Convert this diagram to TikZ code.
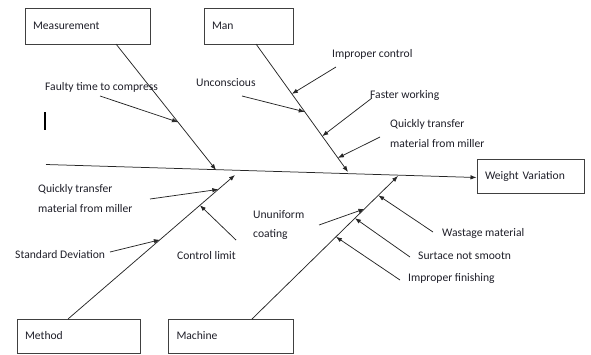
\documentclass[tikz,border=0pt]{standalone}
\usepackage{fontspec}
\setmainfont{Carlito}
\usetikzlibrary{arrows.meta,calc}
\definecolor{txt}{HTML}{1E1E28}
\tikzset{
  box/.style={draw=black!75, line width=0.7pt, rectangle, inner xsep=8pt, inner ysep=0pt, align=left, font=\fontsize{11.6}{13}\selectfont, text=txt},
  lbl/.style={anchor=west, inner sep=0pt, align=left, font=\fontsize{11.6}{20}\selectfont, text=txt},
  bone/.style={line width=0.75pt, draw=black!85},
  cause/.style={line width=0.75pt, draw=black!85, -{Latex[length=6pt,width=4.5pt]}},
}
\begin{document}
\begin{tikzpicture}[x=1pt,y=-1pt]
\useasboundingbox (0,0) rectangle (591,354);
% boxes
\node[box, minimum width=125pt, minimum height=36pt, text width=109pt] (meas) at (87.5,26) {Measurement};
\node[box, minimum width=89pt, minimum height=36pt, text width=73pt] (man) at (248.5,26) {Man};
\node[box, minimum width=107pt, minimum height=34pt, text width=91pt] (effect) at (530.5,176) {Weight Variation};
\node[box, minimum width=123pt, minimum height=34pt, text width=107pt] (method) at (78.5,336) {Method};
\node[box, minimum width=125pt, minimum height=34pt, text width=108pt, inner xsep=8.5pt] (machine) at (230.5,336) {Machine};
% spine
\coordinate (spineS) at (46,164.5);
\coordinate (spineE) at (476.5,177.5);
\draw[cause] (spineS) -- (spineE);
% bone ends
\coordinate (measA) at (116,44);   \coordinate (measB) at (216,170);
\coordinate (manA) at (256,44);    \coordinate (manB) at (348,172);
\coordinate (methA) at (68,319);   \coordinate (methB) at (235,175);
\coordinate (machA) at (252,319);  \coordinate (machB) at (398,176);
\draw[cause] (measA) -- (measB);
\draw[cause] (manA) -- (manB);
\draw[cause] (methA) -- (methB);
\draw[cause] (machA) -- (machB);
% labels
\node[lbl] (l1) at (45,87) {Faulty time to compress};
\node[lbl] (l2) at (196,83) {Unconscious};
\node[lbl] (l3) at (332,54) {Improper control};
\node[lbl] (l4) at (370,95) {Faster working};
\node[lbl] (l5) at (390,134) {Quickly transfer\\material from miller};
\node[lbl] (l6) at (38,198.5) {Quickly transfer\\material from miller};
\node[lbl] (l7) at (15,255) {Standard Deviation};
\node[lbl] (l8) at (177,256) {Control limit};
\node[lbl] (l9) at (253,225) {Ununiform\\coating};
\node[lbl] (l10) at (442,233) {Wastage material};
\node[lbl] (l11) at (418,256) {Surtace not smootn};
\node[lbl] (l12) at (408,278) {Improper finishing};
% tails
\coordinate (t1) at (100,96);
\coordinate (t2) at (242,96);
\coordinate (t3) at (336,67);
\coordinate (t4) at (372,98);
\coordinate (t5) at (380,137);
\coordinate (t6) at (150,199);
\coordinate (t7) at (110,252);
\coordinate (t8) at (236,240);
\coordinate (t9) at (319,225);
\coordinate (t10) at (433,232);
\coordinate (t11) at (410,257);
\coordinate (t12) at (400,280);
% heads on bones
\draw[cause] (t1) -- ($(measA)!0.62!(measB)$);
\draw[cause] (t2) -- ($(manA)!0.53!(manB)$);
\draw[cause] (t3) -- ($(manA)!0.39!(manB)$);
\draw[cause] (t4) -- ($(manA)!0.72!(manB)$);
\draw[cause] (t5) -- ($(manA)!0.89!(manB)$);
\draw[cause] (t6) -- ($(methA)!0.90!(methB)$);
\draw[cause] (t7) -- ($(methA)!0.55!(methB)$);
\draw[cause] (t8) -- ($(methA)!0.79!(methB)$);
\draw[cause] (t9) -- ($(machA)!0.77!(machB)$);
\draw[cause] (t10) -- ($(machA)!0.865!(machB)$);
\draw[cause] (t11) -- ($(machA)!0.705!(machB)$);
\draw[cause] (t12) -- ($(machA)!0.575!(machB)$);
% stray cursor mark
\draw[line width=1.1pt] (45,112) -- (45,130);
\end{tikzpicture}
\end{document}
